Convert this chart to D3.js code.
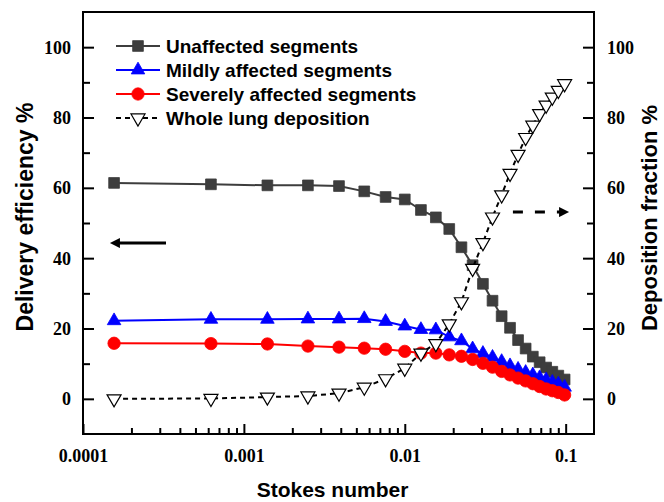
<!DOCTYPE html>
<html>
  <head>
    <meta charset="utf-8">
    <title>Delivery efficiency vs Stokes number</title>
    <script src="https://d3js.org/d3.v7.min.js"></script>
    <style>
      body { margin: 0; background: #fff; }
      svg { display: block; background: #fff; }
      .tick text { font-family: "Liberation Serif", "Times New Roman", serif; font-weight: bold; font-size: 18px; fill: #000; }
      .tick line { stroke: #000; stroke-width: 2; }
      .title { font-family: "Liberation Sans", Arial, sans-serif; font-weight: bold; fill: #000; }
      .legend text { font-family: "Liberation Sans", Arial, sans-serif; font-weight: bold; font-size: 19px; fill: #000; }
    </style>
  </head>
  <body>
    <svg id="chart" width="664" height="502"></svg>
    <script>
      // values
      var stokes = [0.000156, 0.000624, 0.0014, 0.0025, 0.0039, 0.0056, 0.0076, 0.01, 0.0126, 0.0156,
        0.0189, 0.0225, 0.0264, 0.0306, 0.0351, 0.04, 0.0451, 0.0506, 0.0564, 0.0625,
        0.0689, 0.0756, 0.0826, 0.09, 0.0985];
      var unaffected = [61.4, 61.0, 60.7, 60.7, 60.5, 59.0, 57.4, 56.7, 53.7, 51.6,
        48.3, 43.1, 38.0, 32.7, 27.9, 23.5, 20.2, 16.7, 14.3, 12.0,
        10.4, 8.9, 7.7, 6.6, 5.5];
      var mildly = [22.2, 22.6, 22.6, 22.7, 22.7, 22.8, 22.0, 20.7, 19.7, 19.6,
        17.6, 16.5, 14.2, 12.9, 11.8, 10.6, 9.4, 8.4, 7.5, 6.8,
        6.0, 5.4, 4.7, 4.2, 3.3];
      var severely = [15.8, 15.7, 15.6, 15.0, 14.7, 14.4, 14.1, 13.5, 13.0, 13.0,
        12.5, 12.1, 11.2, 10.1, 9.0, 7.8, 6.8, 5.9, 5.1, 4.3,
        3.5, 2.8, 2.3, 1.8, 1.1];
      var wholeLung = [0.0, 0.1, 0.5, 0.8, 1.6, 3.3, 5.7, 8.7, 13.0, 15.7,
        21.3, 27.6, 37.1, 44.4, 51.7, 58.0, 64.1, 69.5, 74.3, 77.8,
        81.1, 83.5, 85.8, 87.7, 89.6];
      var seriesNames = ["Unaffected segments", "Mildly affected segments", "Severely affected segments", "Whole lung deposition"];
      var xTicks = [0.0001, 0.001, 0.01, 0.1];
      var xTickLabels = ["0.0001", "0.001", "0.01", "0.1"];
      var yTicks = [0, 20, 40, 60, 80, 100];
      var yMinorTicks = [10, 30, 50, 70, 90];
      // arrows pointing at each axis (x in Stokes, y in %)
      var leftArrow = [[0.000328, 44.3], [0.000147, 44.3]];
      var rightArrow = [[0.047, 53.1], [0.105, 53.1]];

      var svg = d3.select("#chart");
      var margin = { top: 12, right: 70, bottom: 68, left: 83 };
      var width = 664, height = 502;

      var x = d3.scaleLog()
        .domain([0.0001, 0.15])
        .range([margin.left, width - margin.right]);
      var y = d3.scaleLinear()
        .domain([-10, 110])
        .range([height - margin.bottom, margin.top]);

      var series = [
        { name: seriesNames[0], values: unaffected, color: "#3d3d3d", fill: "#3d3d3d", symbol: d3.symbolSquare, size: 115, rotate: 0, dash: null },
        { name: seriesNames[1], values: mildly, color: "#0000ff", fill: "#0000ff", symbol: d3.symbolTriangle, size: 80, rotate: 0, dash: null },
        { name: seriesNames[2], values: severely, color: "#ff0000", fill: "#ff0000", symbol: d3.symbolCircle, size: 120, rotate: 0, dash: null },
        { name: seriesNames[3], values: wholeLung, color: "#000", fill: "#fff", symbol: d3.symbolTriangle, size: 85, rotate: 180, dash: "5,4" }
      ];

      // minor x ticks between decades
      var xMinor = [];
      xTicks.forEach(function(t) {
        for (var k = 2; k <= 9; k++) {
          if (t * k < x.domain()[1]) xMinor.push(t * k);
        }
      });

      // axes
      var bottom = svg.append("g")
        .attr("transform", "translate(0," + y.range()[0] + ")")
        .call(d3.axisBottom(x).tickValues(xTicks).tickSize(-10).tickPadding(15)
          .tickFormat(function(d, i) { return xTickLabels[i]; }));
      svg.append("g")
        .attr("transform", "translate(0," + y.range()[0] + ")")
        .call(d3.axisBottom(x).tickValues(xMinor).tickSize(-6).tickFormat(""));
      svg.append("g")
        .attr("transform", "translate(" + x.range()[0] + ",0)")
        .call(d3.axisLeft(y).tickValues(yTicks).tickSize(-11).tickPadding(12));
      svg.append("g")
        .attr("transform", "translate(" + x.range()[0] + ",0)")
        .call(d3.axisLeft(y).tickValues(yMinorTicks).tickSize(-7).tickFormat(""));
      svg.append("g")
        .attr("transform", "translate(" + x.range()[1] + ",0)")
        .call(d3.axisRight(y).tickValues(yTicks).tickSize(-11).tickPadding(13));
      svg.append("g")
        .attr("transform", "translate(" + x.range()[1] + ",0)")
        .call(d3.axisRight(y).tickValues(yMinorTicks).tickSize(-7).tickFormat(""));
      svg.selectAll(".domain").remove();
      svg.selectAll(".tick text").attr("dy", null).attr("dominant-baseline", "central");
      bottom.selectAll(".tick text").attr("dominant-baseline", null).attr("dy", "0.71em");

      // frame
      svg.append("rect")
        .attr("x", x.range()[0])
        .attr("y", y.range()[1])
        .attr("width", x.range()[1] - x.range()[0])
        .attr("height", y.range()[0] - y.range()[1])
        .attr("fill", "none")
        .attr("stroke", "#000")
        .attr("stroke-width", 2);

      // series lines and markers
      var line = d3.line()
        .x(function(d) { return x(d[0]); })
        .y(function(d) { return y(d[1]); });

      series.forEach(function(s) {
        var pts = stokes.map(function(v, i) { return [v, s.values[i]]; });
        svg.append("path")
          .datum(pts)
          .attr("fill", "none")
          .attr("stroke", s.color)
          .attr("stroke-width", 2)
          .attr("stroke-dasharray", s.dash)
          .attr("d", line);
        svg.append("g").selectAll("path")
            .data(pts)
          .enter().append("path")
            .attr("transform", function(d) { return "translate(" + x(d[0]) + "," + y(d[1]) + ") rotate(" + s.rotate + ")"; })
            .attr("d", d3.symbol().type(s.symbol).size(s.size))
            .attr("fill", s.fill)
            .attr("stroke", s.rotate ? "#000" : s.color)
            .attr("stroke-width", s.rotate ? 1.2 : 0.8);
      });

      // legend
      var legend = svg.append("g").attr("class", "legend");
      var items = legend.selectAll("g")
          .data(series)
        .enter().append("g")
          .attr("transform", function(d, i) { return "translate(116," + (46 + i * 24) + ")"; });
      items.append("line")
        .attr("x1", 0).attr("x2", 44)
        .attr("stroke", function(d) { return d.color; })
        .attr("stroke-width", 2)
        .attr("stroke-dasharray", function(d) { return d.dash; });
      items.append("path")
        .attr("transform", function(d) { return "translate(22,0) rotate(" + d.rotate + ")"; })
        .attr("d", function(d) { return d3.symbol().type(d.symbol).size(d.size)(); })
        .attr("fill", function(d) { return d.fill; })
        .attr("stroke", function(d) { return d.rotate ? "#000" : d.color; })
        .attr("stroke-width", function(d) { return d.rotate ? 1.2 : 0.8; });
      items.append("text")
        .attr("x", 50)
        .attr("dy", "0.36em")
        .text(function(d) { return d.name; });

      // arrows
      var defs = svg.append("defs");
      defs.append("marker")
        .attr("id", "head")
        .attr("viewBox", "0 0 10 10")
        .attr("refX", 4)
        .attr("refY", 5)
        .attr("markerUnits", "userSpaceOnUse")
        .attr("markerWidth", 13)
        .attr("markerHeight", 10)
        .attr("orient", "auto")
        .append("path")
          .attr("d", "M0,0 L10,5 L0,10 z")
          .attr("fill", "#000");
      svg.append("line")
        .attr("x1", x(leftArrow[0][0])).attr("y1", y(leftArrow[0][1]))
        .attr("x2", x(leftArrow[1][0]) + 6).attr("y2", y(leftArrow[1][1]))
        .attr("stroke", "#000")
        .attr("stroke-width", 3)
        .attr("marker-end", "url(#head)");
      svg.append("line")
        .attr("x1", x(rightArrow[0][0])).attr("y1", y(rightArrow[0][1]))
        .attr("x2", x(rightArrow[1][0]) - 6).attr("y2", y(rightArrow[1][1]))
        .attr("stroke", "#000")
        .attr("stroke-width", 3)
        .attr("stroke-dasharray", "10,12")
        .attr("marker-end", "url(#head)");

      // titles
      svg.append("text")
        .attr("class", "title")
        .attr("x", (x.range()[0] + x.range()[1]) / 2 - 6)
        .attr("y", 497)
        .attr("text-anchor", "middle")
        .style("font-size", "21px")
        .text("Stokes number");
      svg.append("text")
        .attr("class", "title")
        .attr("transform", "translate(33,217) rotate(-90)")
        .attr("text-anchor", "middle")
        .style("font-size", "23px")
        .text("Delivery efficiency %");
      svg.append("text")
        .attr("class", "title")
        .attr("transform", "translate(657,218) rotate(-90)")
        .attr("text-anchor", "middle")
        .style("font-size", "22px")
        .text("Deposition fraction %");
    </script>
  </body>
</html>
